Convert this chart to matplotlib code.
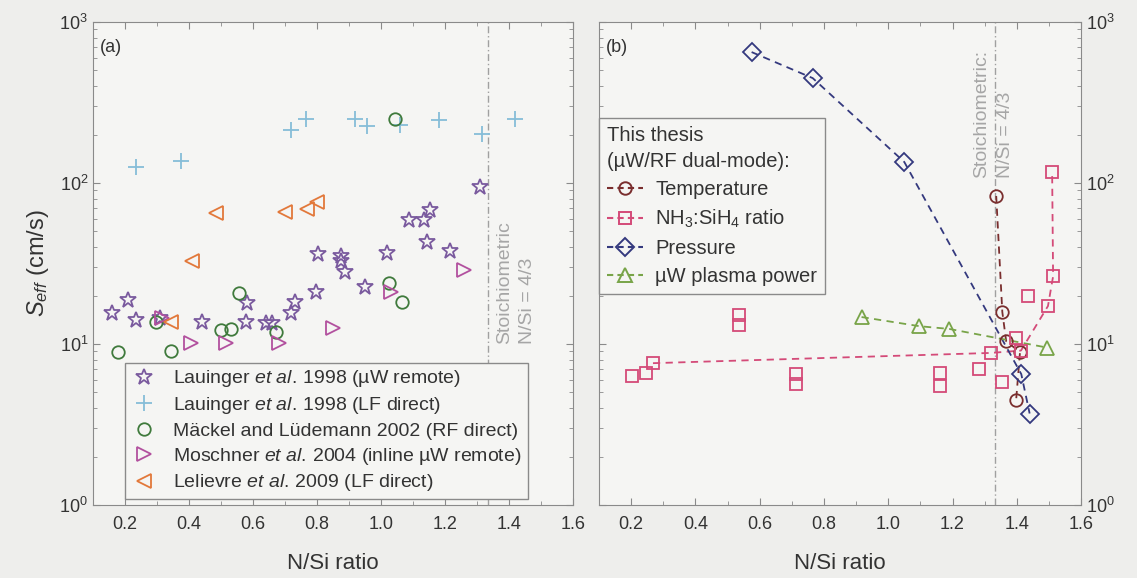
import matplotlib
matplotlib.use("Agg")
import matplotlib.pyplot as plt
from matplotlib.lines import Line2D
from matplotlib.ticker import MultipleLocator, FormatStrFormatter, LogLocator, NullFormatter

plt.rcParams["font.family"] = ["Liberation Sans", "DejaVu Sans"]
plt.rcParams["mathtext.fontset"] = "custom"
plt.rcParams["mathtext.rm"] = "Liberation Sans"
plt.rcParams["mathtext.it"] = "Liberation Sans:italic"

# ---- panel (a): literature data ----
lau_uw_x = [0.16, 0.21, 0.235, 0.31, 0.44, 0.577, 0.58, 0.64, 0.66, 0.72, 0.73, 0.797,
            0.803, 0.874, 0.874, 0.886, 0.95, 1.02, 1.088, 1.134, 1.143, 1.153, 1.215, 1.31]
lau_uw_y = [15.5, 18.8, 14.1, 14.6, 13.7, 13.7, 18, 13.5, 13.5, 15.5, 18.2, 21,
            36, 35, 33, 28, 22.6, 37, 59, 59, 43, 68, 38, 94]
lau_lf_x = [0.233, 0.376, 0.719, 0.766, 0.92, 0.957, 1.06, 1.18, 1.317, 1.42]
lau_lf_y = [126, 137, 214, 250, 250, 226, 229, 245, 201, 250]
mackel_x = [0.177, 0.298, 0.345, 0.50, 0.53, 0.555, 0.673, 1.025, 1.044, 1.066]
mackel_y = [8.9, 13.7, 9.0, 12.2, 12.4, 20.7, 11.9, 24, 250, 18.2]
moschner_x = [0.317, 0.405, 0.515, 0.68, 0.85, 1.03, 1.258]
moschner_y = [14.6, 10.1, 10.1, 10.1, 12.6, 21, 29]
lelievre_x = [0.345, 0.41, 0.484, 0.70, 0.77, 0.80]
lelievre_y = [13.7, 33, 65, 66, 69, 76]

# ---- panel (b): this thesis ----
temp_x = [1.336, 1.355, 1.367, 1.41, 1.398]
temp_y = [83, 15.8, 10.4, 8.9, 4.5]
nh3_x = [0.202, 0.246, 0.268, 0.535, 0.535, 0.712, 0.712, 1.162, 1.162, 1.283,
         1.32, 1.355, 1.397, 1.413, 1.435, 1.497, 1.513, 1.51]
nh3_y = [6.3, 6.6, 7.6, 15.1, 13.1, 6.5, 5.65, 6.6, 5.5, 7.0,
         8.8, 5.8, 10.9, 9.1, 20, 17.2, 26.3, 117]
nh3_trend_x = [0.268, 1.32, 1.413, 1.497, 1.513, 1.51]
nh3_trend_y = [7.6, 8.8, 9.1, 17.2, 26.3, 117]
pressure_x = [0.575, 0.765, 1.05, 1.414, 1.44]
pressure_y = [650, 448, 135, 6.5, 3.7]
power_x = [0.917, 1.097, 1.19, 1.494]
power_y = [14.7, 12.9, 12.4, 9.5]

stoich = 4 / 3
x_ticks = [0.2, 0.4, 0.6, 0.8, 1.0, 1.2, 1.4, 1.6]

C_STAR = "#7a5a9e"
C_PLUS = "#86bdd8"
C_GREEN = "#3f7a3c"
C_MOSCH = "#b2509e"
C_LEL = "#e2783a"
C_TEMP = "#7a2e2e"
C_NH3 = "#d44a78"
C_PRES = "#34397e"
C_POW = "#78a448"
C_GRAY = "#a6a6a6"
C_TEXT = "#333333"

fig = plt.figure(figsize=(11.37, 5.78), dpi=100, facecolor="#eeeeec")
ax_a = fig.add_axes([0.0818, 0.1263, 0.4222, 0.8357])
ax_b = fig.add_axes([0.5268, 0.1263, 0.4240, 0.8357])


def style_axes(ax, right_labels=False):
    ax.set_facecolor("#f5f5f3")
    ax.set_yscale("log")
    ax.set_xlim(0.1, 1.6)
    ax.set_ylim(1, 1000)
    ax.set_xticks(x_ticks)
    ax.xaxis.set_major_formatter(FormatStrFormatter("%.1f"))
    ax.xaxis.set_minor_locator(MultipleLocator(0.1))
    ax.yaxis.set_major_locator(LogLocator(base=10, numticks=10))
    ax.yaxis.set_minor_locator(LogLocator(base=10, subs=range(2, 10), numticks=20))
    ax.yaxis.set_minor_formatter(NullFormatter())
    for s in ax.spines.values():
        s.set_color("#8a8a8a")
    ax.tick_params(which="both", direction="in", top=True, right=True, left=True,
                   bottom=True, colors="#8a8a8a", labelcolor=C_TEXT, labelsize=13)
    ax.tick_params(which="major", length=5)
    ax.tick_params(which="minor", length=3)
    ax.tick_params(axis="x", pad=8)
    if right_labels:
        ax.tick_params(axis="y", labelleft=False, labelright=True)
    ax.set_xlabel("N/Si ratio", fontsize=16, color=C_TEXT, labelpad=14)
    ax.axvline(stoich, color="#a0a0a0", lw=1, ls=(0, (5, 2, 1, 2)), zorder=1)


style_axes(ax_a)
style_axes(ax_b, right_labels=True)

ax_a.set_ylabel(r"$S_{eff}$ (cm/s)", fontsize=17, color=C_TEXT, labelpad=6)

# panel (a)
mk = dict(linestyle="none", markerfacecolor="none", markeredgewidth=1.3)
ax_a.plot(lau_uw_x, lau_uw_y, marker="*", markersize=12, color=C_STAR,
          label=r"Lauinger $et\ al.\,$1998 (µW remote)", **mk)
ax_a.plot(lau_lf_x, lau_lf_y, marker="+", markersize=12, color=C_PLUS,
          label=r"Lauinger $et\ al.\,$1998 (LF direct)", **mk)
ax_a.plot(mackel_x, mackel_y, marker="o", markersize=9, color=C_GREEN,
          label="Mäckel and Lüdemann 2002 (RF direct)", **mk)
ax_a.plot(moschner_x, moschner_y, marker=">", markersize=10, color=C_MOSCH,
          label=r"Moschner $et\ al.\,$2004 (inline µW remote)", **mk)
ax_a.plot(lelievre_x, lelievre_y, marker="<", markersize=10, color=C_LEL,
          label=r"Lelievre $et\ al.\,$2009 (LF direct)", **mk)

leg_a = ax_a.legend(loc="lower left", bbox_to_anchor=(0.066, 0.012), fontsize=14,
                    frameon=True, fancybox=False, edgecolor="#8a8a8a", facecolor="#f5f5f3",
                    handlelength=1.4, handletextpad=0.8, borderpad=0.3, labelspacing=0.3,
                    borderaxespad=0, framealpha=1)
for t in leg_a.get_texts():
    t.set_color(C_TEXT)

ax_a.text(0.015, 0.965, "(a)", transform=ax_a.transAxes, fontsize=13, color=C_TEXT,
          va="top", ha="left")
ax_a.text(stoich + 0.025, 10.0, "Stoichiometric\nN/Si = 4/3", rotation=90, fontsize=14,
          color=C_GRAY, ha="left", va="bottom", multialignment="left", linespacing=1.5)

# panel (b)
ax_b.plot(temp_x, temp_y, ls=(0, (4, 3)), lw=1.3, color=C_TEMP, zorder=2)
ax_b.plot(temp_x, temp_y, marker="o", markersize=9, color=C_TEMP, zorder=3, **mk)
ax_b.plot(nh3_trend_x, nh3_trend_y, ls=(0, (4, 3)), lw=1.3, color=C_NH3, zorder=2)
ax_b.plot(nh3_x, nh3_y, marker="s", markersize=9, color=C_NH3, zorder=3, **mk)
ax_b.plot(pressure_x, pressure_y, ls=(0, (4, 3)), lw=1.3, color=C_PRES, zorder=2)
ax_b.plot(pressure_x, pressure_y, marker="D", markersize=9, color=C_PRES, zorder=3, **mk)
ax_b.plot(power_x, power_y, ls=(0, (4, 3)), lw=1.3, color=C_POW, zorder=2)
ax_b.plot(power_x, power_y, marker="^", markersize=10, color=C_POW, zorder=3, **mk)

handles = [
    Line2D([], [], color=C_TEMP, ls=(0, (3, 2)), marker="o", markersize=9, mfc="none", mew=1.4),
    Line2D([], [], color=C_NH3, ls=(0, (3, 2)), marker="s", markersize=9, mfc="none", mew=1.4),
    Line2D([], [], color=C_PRES, ls=(0, (3, 2)), marker="D", markersize=9, mfc="none", mew=1.4),
    Line2D([], [], color=C_POW, ls=(0, (3, 2)), marker="^", markersize=10, mfc="none", mew=1.4),
]
labels = ["Temperature", r"NH$_3$:SiH$_4$ ratio", "Pressure", "µW plasma power"]
leg_b = ax_b.legend(handles, labels, loc="upper left", bbox_to_anchor=(0.0, 0.801),
                    title="This thesis\n(µW/RF dual-mode):", title_fontsize=14.5,
                    fontsize=14.5, frameon=True, fancybox=False, edgecolor="#8a8a8a",
                    facecolor="#f5f5f3", handlelength=1.8, handletextpad=0.6,
                    borderpad=0.4, labelspacing=0.45, borderaxespad=0, framealpha=1)
leg_b._legend_box.align = "left"
leg_b.get_title().set_color(C_TEXT)
leg_b.get_title().set_linespacing(1.45)
for t in leg_b.get_texts():
    t.set_color(C_TEXT)

ax_b.text(0.015, 0.965, "(b)", transform=ax_b.transAxes, fontsize=13, color=C_TEXT,
          va="top", ha="left")
ax_b.text(stoich - 0.005, 108, "Stoichiometric:\nN/Si = 4/3", rotation=90, fontsize=14,
          color=C_GRAY, ha="center", va="bottom", multialignment="left", linespacing=1.5)

fig.savefig("out.png", dpi=100, facecolor=fig.get_facecolor())
